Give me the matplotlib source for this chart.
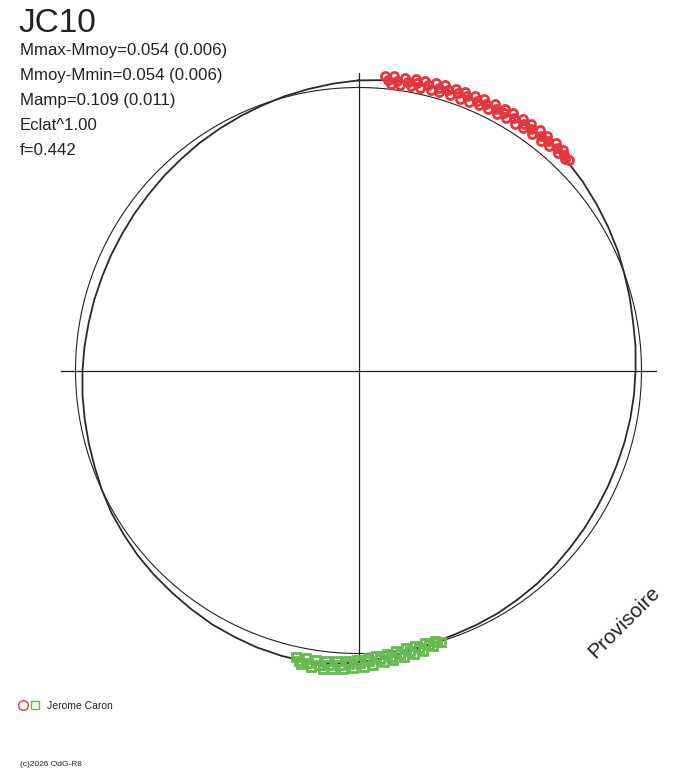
import numpy as np
import matplotlib.pyplot as plt

plt.rcParams['font.family'] = ['Liberation Sans', 'DejaVu Sans']

# star / fit info
star = "JC10"
info = ["Mmax-Mmoy=0.054 (0.006)",
        "Mmoy-Mmin=0.054 (0.006)",
        "Mamp=0.109 (0.011)",
        "Eclat^1.00",
        "f=0.442"]
observer = "Jerome Caron"

# all observations (black), phase vs delta mag from mean (read every 5 deg)
phase_all = [0.000, 0.014, 0.028, 0.042, 0.056, 0.069, 0.083, 0.097, 0.111, 0.125,
             0.139, 0.153, 0.167, 0.181, 0.194, 0.208, 0.222, 0.236, 0.250, 0.264,
             0.278, 0.292, 0.306, 0.319, 0.333, 0.347, 0.361, 0.375, 0.389, 0.403,
             0.417, 0.431, 0.444, 0.458, 0.472, 0.486, 0.500, 0.514, 0.528, 0.542,
             0.556, 0.569, 0.583, 0.597, 0.611, 0.625, 0.639, 0.653, 0.667, 0.681,
             0.694, 0.708, 0.722, 0.736, 0.750, 0.764, 0.778, 0.792, 0.806, 0.819,
             0.833, 0.847, 0.861, 0.875, 0.889, 0.903, 0.917, 0.931, 0.944, 0.958,
             0.972, 0.986]
dmag_all = [-0.027, -0.032, -0.038, -0.041, -0.045, -0.047, -0.049, -0.051, -0.052, -0.047,
            -0.038, -0.028, -0.019, -0.010, 0.000, 0.008, 0.016, 0.019, 0.023, 0.025,
            0.027, 0.029, 0.031, 0.031, 0.031, 0.029, 0.027, 0.023, 0.019, 0.016,
            0.012, 0.010, 0.008, 0.002, -0.008, -0.021, -0.034, -0.043, -0.049, -0.047,
            -0.045, -0.041, -0.038, -0.032, -0.027, -0.023, -0.019, -0.013, -0.008, 0.000,
            0.008, 0.014, 0.019, 0.023, 0.027, 0.031, 0.035, 0.037, 0.039, 0.039,
            0.039, 0.037, 0.035, 0.031, 0.027, 0.021, 0.016, 0.010, 0.004, -0.004,
            -0.011, -0.019]

# Jerome Caron, night 1 (red circles)
phase_red = [0.014, 0.016, 0.018, 0.019, 0.021, 0.023, 0.025, 0.027, 0.029, 0.031,
             0.032, 0.034, 0.036, 0.038, 0.040, 0.042, 0.044, 0.045, 0.047, 0.049,
             0.051, 0.053, 0.055, 0.057, 0.058, 0.060, 0.062, 0.064, 0.066, 0.068,
             0.069, 0.071, 0.073, 0.075, 0.077, 0.079, 0.081, 0.082, 0.084, 0.086,
             0.088, 0.090, 0.092, 0.094, 0.095, 0.097, 0.099, 0.101, 0.103, 0.105,
             0.107, 0.108, 0.110, 0.112, 0.114, 0.116, 0.118, 0.119, 0.121, 0.123,
             0.125]
dmag_red = [-0.049, -0.034, -0.019, -0.050, -0.035, -0.021, -0.051, -0.037, -0.022, -0.052,
            -0.038, -0.023, -0.053, -0.039, -0.025, -0.055, -0.040, -0.026, -0.056, -0.041,
            -0.027, -0.057, -0.043, -0.028, -0.058, -0.044, -0.029, -0.059, -0.045, -0.031,
            -0.060, -0.046, -0.032, -0.062, -0.047, -0.033, -0.063, -0.049, -0.034, -0.064,
            -0.050, -0.035, -0.065, -0.051, -0.037, -0.066, -0.052, -0.038, -0.067, -0.053,
            -0.039, -0.067, -0.055, -0.042, -0.067, -0.056, -0.045, -0.065, -0.055, -0.047,
            -0.053]

# Jerome Caron, night 2 (green squares)
phase_green = [0.453, 0.455, 0.456, 0.458, 0.460, 0.462, 0.464, 0.466, 0.468, 0.469,
               0.471, 0.473, 0.475, 0.477, 0.479, 0.481, 0.482, 0.484, 0.486, 0.488,
               0.490, 0.492, 0.494, 0.495, 0.497, 0.499, 0.501, 0.503, 0.505, 0.507,
               0.508, 0.510, 0.512, 0.514, 0.516, 0.518, 0.519, 0.521, 0.523, 0.525,
               0.527, 0.529, 0.531, 0.532, 0.534]
dmag_green = [-0.004, 0.003, 0.009, -0.011, -0.001, 0.009, -0.017, -0.005, 0.007, -0.023,
              -0.009, 0.005, -0.027, -0.013, 0.000, -0.032, -0.019, -0.006, -0.038, -0.025,
              -0.011, -0.043, -0.030, -0.017, -0.049, -0.036, -0.023, -0.054, -0.041, -0.028,
              -0.060, -0.046, -0.033, -0.063, -0.049, -0.035, -0.065, -0.051, -0.036, -0.065,
              -0.050, -0.035, -0.062, -0.049, -0.038]

R = 283.0   # radius of mean-magnitude circle, px


def to_xy(ph, dm, radius=R):
    ph = np.asarray(ph)
    r = radius * 10 ** (-0.4 * np.asarray(dm))
    return r * np.sin(2 * np.pi * ph), r * np.cos(2 * np.pi * ph)


fig = plt.figure(figsize=(6.88, 7.68), dpi=100)
ax = fig.add_axes([0, 0, 1, 1])
ax.set_xlim(-358.5, 688 - 358.5)
ax.set_ylim(-(768 - 370.5), 370.5)
ax.set_aspect('equal')
ax.axis('off')

# axes cross
L = 1.053 * R
ax.plot([-L, L], [0, 0], color='#222222', lw=0.9)
ax.plot([0, 0], [-L, L], color='#222222', lw=0.9)

# mean circle
t = np.linspace(0, 2 * np.pi, 400)
ax.plot(R * np.sin(t), R * np.cos(t), color='#222222', lw=0.8)

# all data
x, y = to_xy(phase_all + phase_all[:1], dmag_all + dmag_all[:1])
ax.plot(x, y, color='#2a2a2a', lw=1.3)

x, y = to_xy(phase_red, dmag_red)
ax.plot(x, y, 'o', ms=5.8, mfc='none', mec='#e8343c', mew=2.0, ls='none')
x, y = to_xy(phase_green, dmag_green)
ax.plot(x, y, 's', ms=5.2, mfc='none', mec='#66bb50', mew=2.0, ls='none')


def px(xp, yp):
    return xp / 688, 1 - yp / 768


fig.text(*px(18, 32), star, fontsize=24, color='#222222', va='baseline')
for i, line in enumerate(info):
    fig.text(*px(20, 55 + 25 * i), line, fontsize=12.1, color='#222222', va='baseline')

# legend
ax_leg = fig.add_axes([0, 0, 1, 1], zorder=-1)
ax_leg.set_xlim(0, 688)
ax_leg.set_ylim(768, 0)
ax_leg.axis('off')
ax_leg.plot([22.5], [705], 'o', ms=7, mfc='none', mec='#e8343c', mew=1)
ax_leg.plot([35], [705], 's', ms=5.5, mfc='none', mec='#66bb50', mew=1)
fig.text(*px(47, 709), observer, fontsize=7.5, color='#222222', va='baseline')

fig.text(*px(20, 766), "(c)2026 OdG-R8", fontsize=6, color='#222222', va='baseline')
fig.text(*px(624, 622), "Provisoire", fontsize=15, color='#222222',
         rotation=45, ha='center', va='center')

fig.savefig('out.png', dpi=100)
